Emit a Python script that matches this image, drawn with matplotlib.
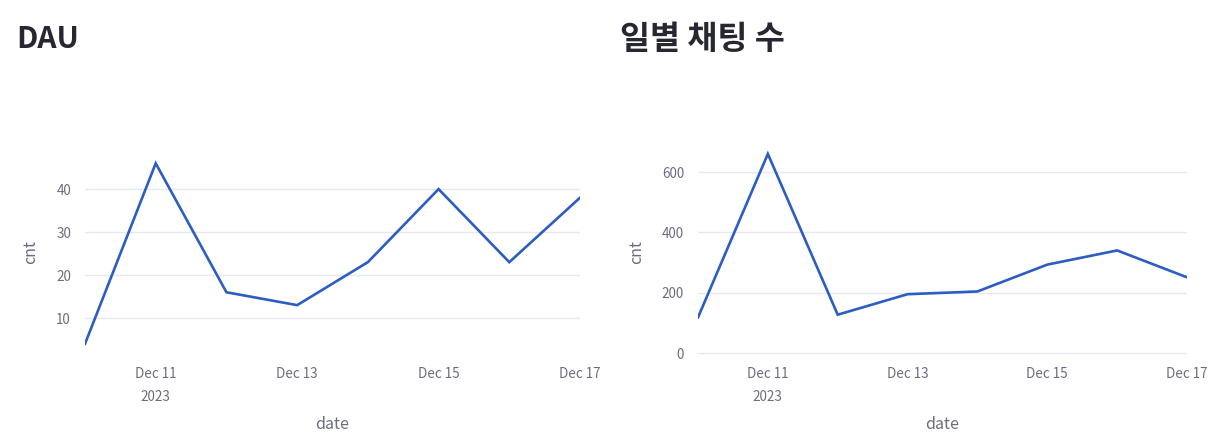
import matplotlib
matplotlib.use("Agg")
import matplotlib.pyplot as plt
import matplotlib.dates as mdates
import numpy as np
import datetime as dt

plt.rcParams['font.family'] = ['Noto Sans CJK KR', 'DejaVu Sans']

dates = [dt.date(2023, 12, d) for d in range(10, 18)]
dau_cnt = [4, 46, 16, 13, 23, 40, 23, 38]
chat_cnt = [118, 660, 127, 195, 204, 293, 340, 251]
titles = ["DAU", "일별 채팅 수"]
tick_dates = [dt.date(2023, 12, d) for d in (11, 13, 15, 17)]
tick_labels = ["Dec 11\n2023", "Dec 13", "Dec 15", "Dec 17"]
dau_yticks = [10, 20, 30, 40]
chat_yticks = [0, 200, 400, 600]

W, H = 1226, 447
fig = plt.figure(figsize=(W / 100, H / 100), dpi=100)

LINE = "#2d5cc2"
GRID = "#e6e9f0"
TICK = "#6b6d7f"
TITLE = "#262730"

def make(ax_px, title_px, title_size, series, yticks, ylim, title):
    x0, x1, ytop, ybot = ax_px
    ax = fig.add_axes([x0 / W, (H - ybot) / H, (x1 - x0) / W, (ybot - ytop) / H])
    ax.plot(dates, series, color=LINE, lw=1.9, solid_joinstyle='miter', clip_on=True)
    ax.set_xlim(dates[0], dates[-1])
    ax.set_ylim(*ylim)
    ax.set_yticks(yticks)
    ax.set_xticks(tick_dates)
    ax.set_xticklabels(tick_labels, linespacing=1.75)
    for s in ax.spines.values():
        s.set_visible(False)
    ax.grid(axis='y', color=GRID, lw=1)
    ax.set_axisbelow(True)
    ax.tick_params(axis='both', length=0, colors=TICK, labelsize=9.7)
    ax.tick_params(axis='y', pad=10)
    ax.tick_params(axis='x', pad=9)
    ax.set_xlabel("date", color=TICK, fontsize=11.5, labelpad=9)
    ax.set_ylabel("cnt", color=TICK, fontsize=11.5, labelpad=12)
    fig.text(title_px[0] / W, 1 - title_px[1] / H, title, fontsize=title_size,
             fontweight='bold', color=TITLE, va='center', ha='left')
    return ax

make((85, 580, 150, 355), (16, 39), 21.5, dau_cnt, dau_yticks, (1.4, 49.1), titles[0])
make((698, 1187, 150, 355), (620, 39), 23.5, chat_cnt, chat_yticks, (-6.6, 673), titles[1])

fig.savefig("out.png", dpi=100, facecolor="white")
